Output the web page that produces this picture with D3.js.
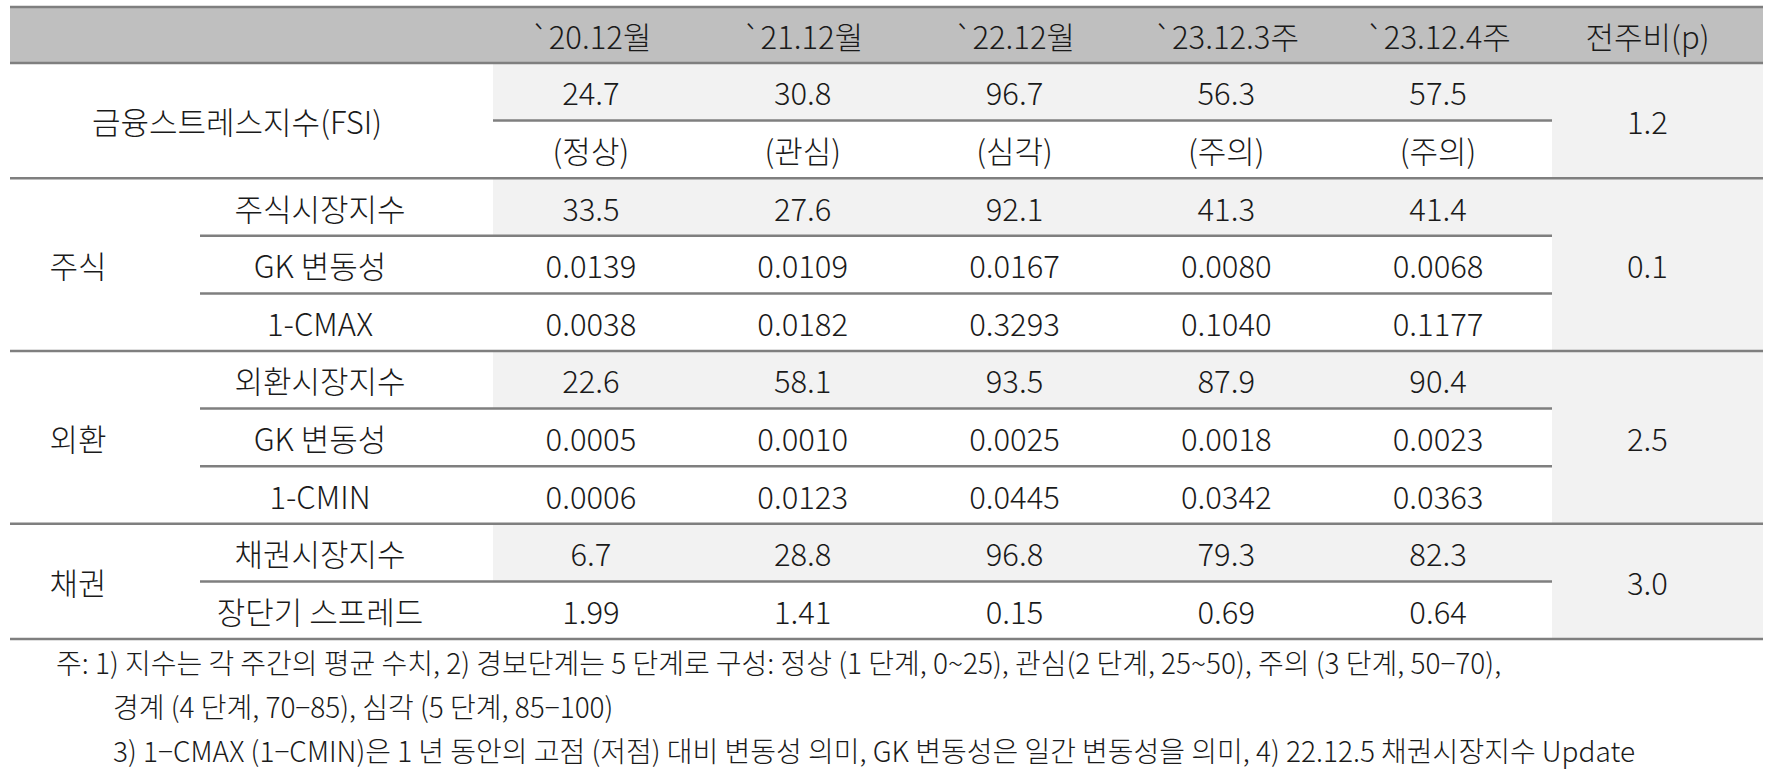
<!DOCTYPE html>
<html><head><meta charset="utf-8">
<script src="https://cdn.jsdelivr.net/npm/d3@7"></script>
<style>
body{margin:0;background:#fff;}
text{font-family:"Noto Sans CJK KR","Noto Sans",sans-serif;fill:#1a1a1a;font-weight:300;}
</style></head>
<body><svg id="c" width="1769" height="782"></svg>
<script>
const columns = ["`20.12월", "`21.12월", "`22.12월", "`23.12.3주", "`23.12.4주"];
const changeHeader = "전주비(p)";
const groups = ["금융스트레스지수(FSI)", "주식", "외환", "채권"];
const rowLabels = [null, null, "주식시장지수", "GK 변동성", "1-CMAX", "외환시장지수", "GK 변동성", "1-CMIN", "채권시장지수", "장단기 스프레드"];
const rowGroup = [0, 0, 1, 1, 1, 2, 2, 2, 3, 3];
const values = [
  ["24.7", "30.8", "96.7", "56.3", "57.5"],
  ["(정상)", "(관심)", "(심각)", "(주의)", "(주의)"],
  ["33.5", "27.6", "92.1", "41.3", "41.4"],
  ["0.0139", "0.0109", "0.0167", "0.0080", "0.0068"],
  ["0.0038", "0.0182", "0.3293", "0.1040", "0.1177"],
  ["22.6", "58.1", "93.5", "87.9", "90.4"],
  ["0.0005", "0.0010", "0.0025", "0.0018", "0.0023"],
  ["0.0006", "0.0123", "0.0445", "0.0342", "0.0363"],
  ["6.7", "28.8", "96.8", "79.3", "82.3"],
  ["1.99", "1.41", "0.15", "0.69", "0.64"]
];
const changes = ["1.2", "0.1", "2.5", "3.0"];
const notes = [
  "주: 1) 지수는 각 주간의 평균 수치, 2) 경보단계는 5 단계로 구성: 정상 (1 단계, 0~25), 관심(2 단계, 25~50), 주의 (3 단계, 50−70),",
  "경계 (4 단계, 70−85), 심각 (5 단계, 85−100)",
  "3) 1−CMAX (1−CMIN)은 1 년 동안의 고점 (저점) 대비 변동성 의미, GK 변동성은 일간 변동성을 의미, 4) 22.12.5 채권시장지수 Update"
];

const svg = d3.select('#c');
const L = 10, R = 1763, headTop = 7, headBot = 63, rowH = 57.6;
const dataX0 = 493, colW = 211.8, lastX0 = dataX0 + 5 * colW;
const subX0 = 200;
const FS = 31;
const y = (i) => headBot + i * rowH;
const colC = (j) => dataX0 + j * colW + colW / 2 - 8;
const LINE = '#7f7f7f';

// group extents
const gStart = groups.map((g, k) => rowGroup.indexOf(k));
const gEnd = groups.map((g, k) => rowGroup.lastIndexOf(k) + 1);

// header band
svg.append('rect').attr('x', L).attr('y', headTop).attr('width', R - L).attr('height', headBot - headTop).attr('fill', '#bfbfbf');
// shading: first row of each group (data cols) and whole change column
gStart.forEach((s) => {
  svg.append('rect').attr('x', dataX0).attr('y', y(s)).attr('width', lastX0 - dataX0).attr('height', rowH).attr('fill', '#f2f2f2');
});
svg.append('rect').attr('x', lastX0).attr('y', y(0)).attr('width', R - lastX0).attr('height', y(10) - y(0)).attr('fill', '#f2f2f2');

// lines
const hline = (x1, x2, yy) => svg.append('line').attr('x1', x1).attr('x2', x2).attr('y1', yy).attr('y2', yy)
  .attr('stroke', LINE).attr('stroke-width', 2.5);
hline(L, R, headTop);
hline(L, R, headBot);
gEnd.forEach((e) => hline(L, R, y(e)));
for (let i = 1; i < 10; i++) {
  if (gStart.includes(i)) continue;
  hline(i === 1 ? dataX0 : subX0, lastX0, y(i));
}

const txt = (x, yy, s, anchor = 'middle', fs = FS) => svg.append('text').attr('x', x).attr('y', yy)
  .attr('text-anchor', anchor).attr('dominant-baseline', 'central').attr('font-size', fs).text(s);

// header
columns.forEach((c, j) => txt(colC(j), (headTop + headBot) / 2, c));
txt((lastX0 + R) / 2 - 10, (headTop + headBot) / 2, changeHeader);

// group labels
groups.forEach((g, k) => {
  const cy = (y(gStart[k]) + y(gEnd[k])) / 2;
  if (k === 0) txt(237, cy, g);
  else txt(78, cy, g);
  txt((lastX0 + R) / 2 - 10, cy, changes[k]);
});
rowLabels.forEach((r, i) => { if (r) txt(320, y(i) + rowH / 2, r); });

// values
values.forEach((row, i) => row.forEach((v, j) => txt(colC(j), y(i) + rowH / 2, v)));

// notes
txt(56, 662, notes[0], 'start', 28);
txt(113, 706, notes[1], 'start', 28);
txt(113, 750, notes[2], 'start', 28);
</script></body></html>
